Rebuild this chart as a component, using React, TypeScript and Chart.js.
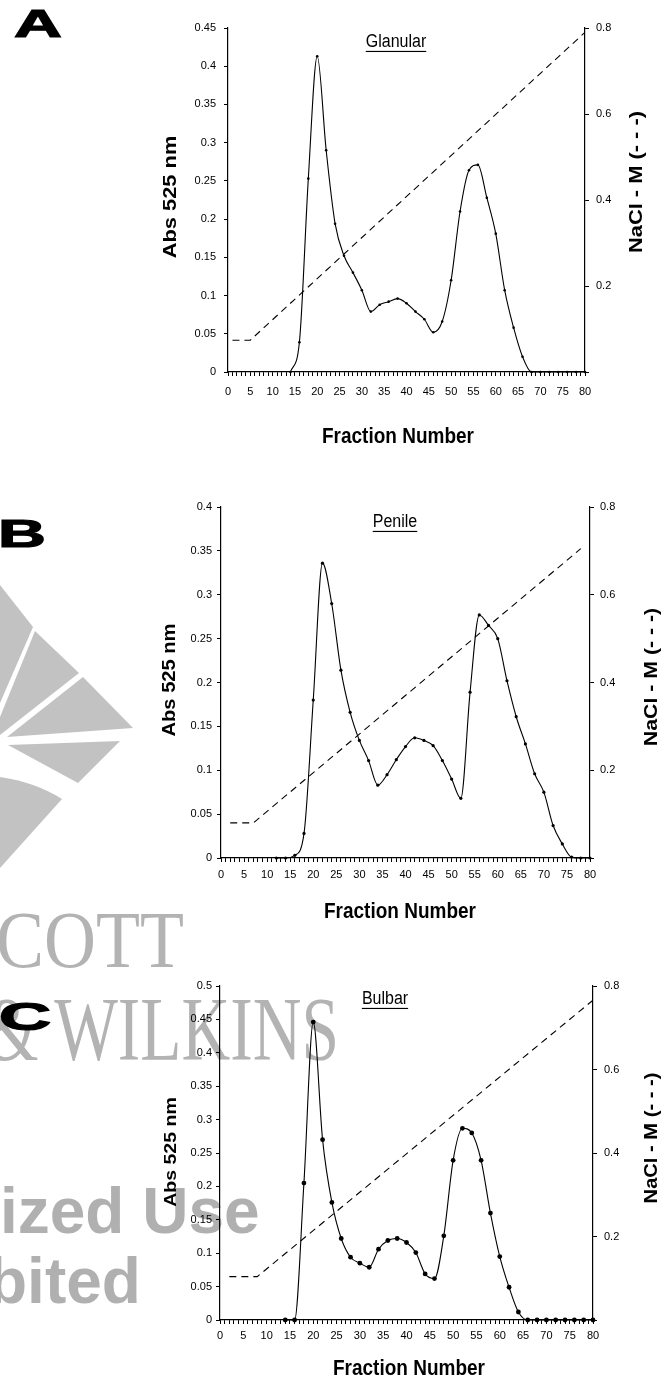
import React, { useEffect, useRef } from "react";
import { Chart, registerables } from "chart.js";

Chart.register(...registerables);

// ---------- DATA ----------
// Panel A – Glanular
const fractionsA = [14, 16, 18, 20, 22, 24, 26, 28, 30, 32, 34, 36, 38, 40, 42, 44, 46, 48, 50, 52, 54, 56, 58, 60, 62, 64, 66, 68, 70, 72, 74, 76, 78, 80];
const absA = [0, 0.039, 0.253, 0.413, 0.29, 0.194, 0.152, 0.13, 0.107, 0.079, 0.088, 0.092, 0.096, 0.09, 0.079, 0.069, 0.052, 0.066, 0.12, 0.21, 0.264, 0.271, 0.228, 0.181, 0.107, 0.058, 0.02, 0, 0, 0, 0, 0, 0, 0];
const naclFractionsA = [1, 5, 80];
const naclA = [0.074, 0.074, 0.79];

// Panel B – Penile
const fractionsB = [12, 14, 16, 18, 20, 22, 24, 26, 28, 30, 32, 34, 36, 38, 40, 42, 44, 46, 48, 50, 52, 54, 56, 58, 60, 62, 64, 66, 68, 70, 72, 74, 76, 78, 80];
const absB = [0, 0, 0.003, 0.028, 0.18, 0.336, 0.29, 0.214, 0.166, 0.134, 0.111, 0.083, 0.095, 0.112, 0.127, 0.137, 0.134, 0.128, 0.111, 0.09, 0.068, 0.189, 0.277, 0.265, 0.25, 0.202, 0.161, 0.13, 0.096, 0.075, 0.037, 0.016, 0.001, 0, 0];
const naclFractionsB = [2, 7, 78];
const naclB = [0.08, 0.08, 0.705];

// Panel C – Bulbar
const fractionsC = [14, 16, 18, 20, 22, 24, 26, 28, 30, 32, 34, 36, 38, 40, 42, 44, 46, 48, 50, 52, 54, 56, 58, 60, 62, 64, 66, 68, 70, 72, 74, 76, 78, 80];
const absC = [0, 0, 0.205, 0.446, 0.27, 0.176, 0.122, 0.094, 0.085, 0.079, 0.106, 0.119, 0.122, 0.116, 0.101, 0.069, 0.062, 0.126, 0.239, 0.287, 0.28, 0.239, 0.16, 0.095, 0.049, 0.012, 0, 0, 0, 0, 0, 0, 0, 0];
const naclFractionsC = [2, 8, 80];
const naclC = [0.104, 0.104, 0.766];

// Axis ranges / titles
const xMax = 80;
const absMaxA = 0.45;
const absMaxB = 0.4;
const absMaxC = 0.5;
const naclMax = 0.8;
const subtitles = ["Glanular", "Penile", "Bulbar"];
const panelLetters = ["A", "B", "C"];
const xTitle = "Fraction Number";
const yTitle = "Abs 525 nm";
const y2Title = "NaCl - M (- - -)";

// ---------- LAYOUT ----------
const W = 671;
const SANS = "'Liberation Sans', Arial, Helvetica, sans-serif";
const STRETCH = 1.15;

type TextItem = { text: string; x: number; y: number; size: number; bold?: boolean; rot?: boolean; underline?: boolean };

type PanelCfg = {
  top: number;
  height: number;
  area: { left: number; right: number; top: number; bottom: number };
  yMax: number;
  fr: number[];
  abs: number[];
  naclFr: number[];
  nacl: number[];
  pointR: number;
  xPad: number;
  yPad: number;
  y2Pad: number;
  texts: TextItem[];
};

const panels: PanelCfg[] = [
  {
    top: 0,
    height: 460,
    area: { left: 228, right: 585, top: 28, bottom: 372 },
    yMax: absMaxA,
    fr: fractionsA,
    abs: absA,
    naclFr: naclFractionsA,
    nacl: naclA,
    pointR: 1.3,
    xPad: 9,
    yPad: 8,
    y2Pad: 7,
    texts: [
      { text: yTitle, x: 171, y: 197, size: 19, bold: true, rot: true },
      { text: y2Title, x: 637, y: 182, size: 19, bold: true, rot: true },
      { text: xTitle, x: 398, y: 437, size: 19, bold: true },
      { text: subtitles[0], x: 396, y: 42, size: 16, underline: true },
    ],
  },
  {
    top: 460,
    height: 460,
    area: { left: 221, right: 590, top: 47, bottom: 398 },
    yMax: absMaxB,
    fr: fractionsB,
    abs: absB,
    naclFr: naclFractionsB,
    nacl: naclB,
    pointR: 1.6,
    xPad: 6,
    yPad: 5,
    y2Pad: 6,
    texts: [
      { text: yTitle, x: 170, y: 220, size: 17.5, bold: true, rot: true },
      { text: y2Title, x: 652, y: 217, size: 18.5, bold: true, rot: true },
      { text: xTitle, x: 400, y: 452, size: 19, bold: true },
      { text: subtitles[1], x: 395, y: 62, size: 16, underline: true },
    ],
  },
  {
    top: 920,
    height: 460,
    area: { left: 220, right: 593, top: 66, bottom: 400 },
    yMax: absMaxC,
    fr: fractionsC,
    abs: absC,
    naclFr: naclFractionsC,
    nacl: naclC,
    pointR: 2.4,
    xPad: 5,
    yPad: 4,
    y2Pad: 7,
    texts: [
      { text: yTitle, x: 171, y: 232, size: 17, bold: true, rot: true },
      { text: y2Title, x: 652, y: 218, size: 17.5, bold: true, rot: true },
      { text: xTitle, x: 409, y: 449, size: 19, bold: true },
      { text: subtitles[2], x: 385, y: 79, size: 16, underline: true },
    ],
  },
];

const fmt = (v: number) => String(+Number(v).toFixed(3));

function Panel({ cfg }: { cfg: PanelCfg }) {
  const ref = useRef<HTMLCanvasElement | null>(null);

  useEffect(() => {
    const canvas = ref.current;
    if (!canvas) return;
    const { area } = cfg;
    const tickFont = { family: SANS, size: 11 };

    const textPlugin = {
      id: "panelText",
      afterDraw(chart: any) {
        const ctx = chart.ctx as CanvasRenderingContext2D;
        for (const t of cfg.texts) {
          ctx.save();
          ctx.font = `${t.bold ? "bold " : ""}${t.size}px ${SANS}`;
          ctx.fillStyle = "#000";
          ctx.textAlign = "center";
          ctx.textBaseline = "middle";
          ctx.translate(t.x, t.y);
          if (t.rot) {
            ctx.rotate(-Math.PI / 2);
            ctx.scale(STRETCH, 1);
          } else {
            ctx.scale(1, STRETCH);
          }
          ctx.fillText(t.text, 0, 0);
          if (t.underline) {
            const w = ctx.measureText(t.text).width;
            ctx.fillRect(-w / 2, t.size * 0.42 + 1, w, 1);
          }
          ctx.restore();
        }
      },
    };

    const chart = new Chart(canvas, {
      type: "line",
      data: {
        datasets: [
          {
            label: "Abs 525 nm",
            data: cfg.fr.map((f, i) => ({ x: f, y: cfg.abs[i] })),
            yAxisID: "y",
            borderColor: "#000",
            borderWidth: 1.1,
            backgroundColor: "#000",
            pointBackgroundColor: "#000",
            pointBorderColor: "#000",
            pointBorderWidth: 0,
            pointRadius: cfg.pointR,
            pointHoverRadius: 0,
            cubicInterpolationMode: "monotone",
            tension: 0.4,
            clip: false as any,
          },
          {
            label: "NaCl",
            data: cfg.naclFr.map((f, i) => ({ x: f, y: cfg.nacl[i] })),
            yAxisID: "y2",
            borderColor: "#000",
            borderWidth: 1.1,
            borderDash: [7, 5],
            pointRadius: 0,
            tension: 0,
          },
        ],
      },
      options: {
        animation: false,
        responsive: false,
        maintainAspectRatio: false,
        devicePixelRatio: 1,
        events: [],
        layout: { padding: { top: area.top, left: 0, right: 0, bottom: 0 } },
        plugins: { legend: { display: false }, tooltip: { enabled: false }, title: { display: false } },
        scales: {
          x: {
            type: "linear",
            min: 0,
            max: xMax,
            afterFit: (s: any) => {
              s.height = cfg.height - area.bottom;
            },
            ticks: {
              stepSize: 1,
              autoSkip: false,
              maxRotation: 0,
              minRotation: 0,
              padding: cfg.xPad,
              color: "#000",
              font: tickFont,
              callback: (v: any) => (Number(v) % 5 === 0 ? String(v) : ""),
            },
            grid: { drawOnChartArea: false, drawTicks: true, tickLength: 4, color: "#000", lineWidth: 1 },
            border: { display: true, color: "#000", width: 1.2 },
          },
          y: {
            type: "linear",
            position: "left",
            min: 0,
            max: cfg.yMax,
            afterFit: (s: any) => {
              s.width = area.left;
            },
            ticks: { stepSize: 0.05, padding: cfg.yPad, color: "#000", font: tickFont, callback: (v: any) => fmt(v) },
            grid: { drawOnChartArea: false, drawTicks: true, tickLength: 4, color: "#000", lineWidth: 1 },
            border: { display: true, color: "#000", width: 1.2 },
          },
          y2: {
            type: "linear",
            position: "right",
            min: 0,
            max: naclMax,
            afterFit: (s: any) => {
              s.width = W - area.right;
            },
            ticks: {
              stepSize: 0.2,
              padding: cfg.y2Pad,
              color: "#000",
              font: tickFont,
              callback: (v: any) => (Number(v) === 0 ? "" : fmt(v)),
            },
            grid: { drawOnChartArea: false, drawTicks: true, tickLength: 4, color: "#000", lineWidth: 1 },
            border: { display: true, color: "#000", width: 1.2 },
          },
        },
      } as any,
      plugins: [textPlugin],
    });

    return () => chart.destroy();
  }, [cfg]);

  return (
    <canvas
      ref={ref}
      width={W}
      height={cfg.height}
      style={{ position: "absolute", left: 0, top: cfg.top, width: W, height: cfg.height, zIndex: 1 }}
    />
  );
}

function Backdrop() {
  return (
    <svg width={W} height={1380} style={{ position: "absolute", left: 0, top: 0, zIndex: 0 }}>
      <g fill="#c2c2c2">
        <polygon points="0,585 33,627 0,703" />
        <polygon points="35,631 79,673 0,735 0,717" />
        <polygon points="83,677 133,728 7,737" />
        <polygon points="8,745 120,741 78,783" />
        <path d="M0,777 Q35,782 62,799 L0,868 Z" />
      </g>
      <g fill="#b3b3b3" fontFamily="'Liberation Serif', 'DejaVu Serif', serif">
        <text transform="translate(-4,967) scale(0.9,1)" fontSize={80}>COTT</text>
        <text transform="translate(-14,1060) scale(0.75,1)" fontSize={90}>&amp; WILKINS</text>
      </g>
      <g fill="#b0b0b0" fontFamily={SANS} fontWeight="bold">
        <text x={-25} y={1233} fontSize={64}>rized Use</text>
        <text x={-12} y={1303} fontSize={64}>bited</text>
      </g>
      <g fill="#000" stroke="#000" strokeWidth={1.2} fontFamily={SANS} fontWeight="bold">
        <text transform="translate(14,37) scale(1.7,1)" fontSize={39}>{panelLetters[0]}</text>
        <text transform="translate(-2,547) scale(1.7,1)" fontSize={39}>{panelLetters[1]}</text>
        <text transform="translate(-1,1030) scale(1.85,1)" fontSize={39}>{panelLetters[2]}</text>
      </g>
    </svg>
  );
}

export default function App() {
  return (
    <div style={{ position: "absolute", left: 0, top: 0, width: W, height: 1380, background: "#fff", overflow: "hidden" }}>
      <Backdrop />
      {panels.map((p, i) => (
        <Panel key={i} cfg={p} />
      ))}
    </div>
  );
}
